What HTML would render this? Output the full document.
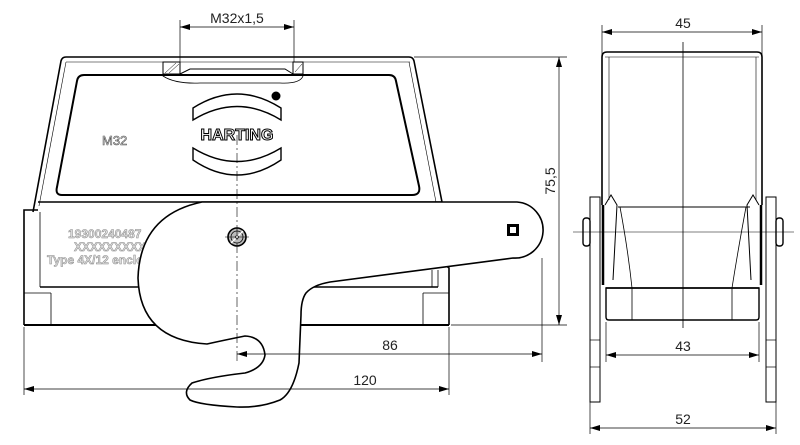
<!DOCTYPE html>
<html><head><meta charset="utf-8"><style>
html,body{margin:0;padding:0;background:#fff;width:800px;height:445px;overflow:hidden}
svg{display:block}
text{font-family:"Liberation Sans","DejaVu Sans",sans-serif}
</style></head><body>
<svg width="800" height="445" viewBox="0 0 800 445" xmlns="http://www.w3.org/2000/svg">
<defs>
<marker id="a" viewBox="0 0 10 6" refX="10" refY="3" markerWidth="10" markerHeight="6" orient="auto-start-reverse" markerUnits="userSpaceOnUse"><path d="M0,0 L10,3 L0,6 z" fill="#000"/></marker>
</defs>
<g fill="none" stroke="#000" stroke-width="1">
<line x1="180" y1="20" x2="180" y2="76" stroke-width="0.7"/>
<line x1="294" y1="20" x2="294" y2="76" stroke-width="0.7"/>
<line x1="180" y1="27" x2="294" y2="27" stroke-width="0.7" marker-start="url(#a)" marker-end="url(#a)"/>
<path d="M66,57 L409,57 Q413,57 414,61 L442,202" stroke-width="1.6"/>
<path d="M66,57 Q62,57 61,61 L33,212" stroke-width="1.6"/>
<line x1="66" y1="62" x2="410" y2="62" stroke-width="0.6"/>
<path d="M66,62 L39,206" stroke-width="0.6"/>
<path d="M409,62 L436,202" stroke-width="0.6"/>
<path d="M84,75 L389,75 Q395,75 396,81 L419,186 Q421,195 412,195 L62,195 Q55,195 57,187 L77,81 Q78,75 84,75 Z" stroke-width="2"/>
<line x1="38" y1="202" x2="442" y2="202" stroke-width="1.4"/>
<path d="M163,62 L163,76 Q175,84 200,83 L280,83 Q300,84 303,76 L303,62" stroke-width="0.8"/>
<path d="M163,62 L180,62 L180,74 L163,74 Z M293,62 L303,62 L303,74 L293,74Z" stroke-width="1" fill="#fff"/>
<path d="M165,73 L176,63 M169,73 L179,64 M295,72 L302,64" stroke-width="0.5"/>
<path d="M180,74 L190,69 L285,69 L293,74" stroke-width="1"/>
<path d="M193,108 Q237,80 281,108 L281,120 Q237,93 193,120 Z" stroke-width="1.4"/>
<path d="M193,148 Q237,175 281,148 L281,160 Q237,190 193,160 Z" stroke-width="1.4"/>
<circle cx="276" cy="96" r="4.5" fill="#000" stroke="none"/>
<path d="M24,325 L24,210 L38,210" stroke-width="1.6"/>
<line x1="24" y1="325" x2="449" y2="325" stroke-width="2"/>
<path d="M445,265 L449,268 L449,325" stroke-width="1.6"/>
<line x1="40" y1="212" x2="40" y2="287" stroke-width="0.8"/>
<line x1="40" y1="287" x2="438" y2="287" stroke-width="1.6"/>
<line x1="24" y1="293" x2="51" y2="293" stroke-width="0.8"/>
<line x1="51" y1="293" x2="51" y2="325" stroke-width="0.8"/>
<line x1="423" y1="293" x2="449" y2="293" stroke-width="0.8"/>
<line x1="423" y1="293" x2="423" y2="325" stroke-width="0.8"/>
<line x1="432" y1="270" x2="432" y2="287" stroke-width="0.8"/>
<line x1="438" y1="270" x2="438" y2="287" stroke-width="0.8"/>
</g>
<text x="102" y="145" font-size="13" fill="#eee" stroke="#555" stroke-width="0.6">M32</text>
<text x="237" y="140" font-size="16" font-weight="bold" fill="#fff" stroke="#000" stroke-width="1" text-anchor="middle">HARTING</text>
<g font-size="12" font-weight="bold" fill="#ddd" stroke="#888" stroke-width="0.5">
<text x="68" y="238">19300240487</text>
<text x="74" y="251">XXXXXXXXX</text>
<text x="47" y="264">Type 4X/12 enclosure</text>
</g>
<path d="M202,202 L517,202 A28,28 0 0 1 513,258 L330,282 Q313,285 306,293 Q301,300 301,315 L299,363 Q293,393 280,400 Q260,408 237,407 Q200,405 190,400 Q182,392 192,383 Q210,377 245,373 Q263,368 265,355 Q263,337 245,336 Q225,340 207,344 Q140,340 138,278 Q140,215 202,202 Z" fill="#fff" stroke="#000" stroke-width="1.6"/>
<circle cx="237" cy="237" r="9" fill="#bbb" stroke="#000" stroke-width="1.6"/>
<circle cx="237" cy="237" r="6" fill="none" stroke="#000" stroke-width="0.8"/>
<line x1="231" y1="243" x2="243" y2="231" stroke="#fff" stroke-width="1.5"/>
<circle cx="237" cy="237" r="1.5" fill="#fff" stroke="#000" stroke-width="0.6"/>
<rect x="507" y="224" width="12" height="12" fill="#000"/>
<rect x="510" y="227" width="6" height="6" fill="#fff"/>
<g stroke="#000" fill="none">
<line x1="237" y1="135" x2="237" y2="362" stroke-width="0.6" stroke-dasharray="10,3,2,3"/>
<line x1="225" y1="237" x2="249" y2="237" stroke-width="0.6"/>
<line x1="542" y1="258" x2="542" y2="362" stroke-width="0.7"/>
<line x1="237" y1="354" x2="542" y2="354" stroke-width="0.7" marker-start="url(#a)" marker-end="url(#a)"/>
<line x1="24" y1="327" x2="24" y2="395" stroke-width="0.7"/>
<line x1="449" y1="327" x2="449" y2="395" stroke-width="0.7"/>
<line x1="24" y1="389" x2="449" y2="389" stroke-width="0.7" marker-start="url(#a)" marker-end="url(#a)"/>
<line x1="414" y1="57" x2="567" y2="57" stroke-width="0.7"/>
<line x1="451" y1="325" x2="567" y2="325" stroke-width="0.7"/>
<line x1="559" y1="57" x2="559" y2="325" stroke-width="0.7" marker-start="url(#a)" marker-end="url(#a)"/>
</g>
<g font-size="14" fill="#222" text-anchor="middle">
<text x="237" y="23">M32x1,5</text>
<text x="390" y="350">86</text>
<text x="365" y="385">120</text>
<text x="0" y="0" transform="translate(555,181) rotate(-90)">75,5</text>
<text x="683" y="28">45</text>
<text x="683" y="351">43</text>
<text x="683" y="424">52</text>
</g>
<g fill="none" stroke="#000">
<line x1="602" y1="25" x2="602" y2="205" stroke-width="0.7"/>
<line x1="762" y1="25" x2="762" y2="205" stroke-width="0.7"/>
<line x1="602" y1="32" x2="762" y2="32" stroke-width="0.7" marker-start="url(#a)" marker-end="url(#a)"/>
<path d="M602,205 L602,57 Q602,52 607,52 L757,52 Q762,52 762,57 L762,205" stroke-width="1.6"/>
<line x1="605" y1="57" x2="759" y2="57" stroke-width="0.6"/>
<line x1="609" y1="57" x2="609" y2="200" stroke-width="0.6"/>
<line x1="756" y1="57" x2="756" y2="200" stroke-width="0.6"/>
<line x1="683" y1="42" x2="683" y2="328" stroke-width="0.8"/>
<line x1="618" y1="207" x2="750" y2="207" stroke-width="1"/>
<path d="M606,288 L606,317 Q606,320 609,320 L756,320 Q759,320 759,317 L759,288 Z" stroke-width="1.4"/>
<line x1="606" y1="288" x2="759" y2="288" stroke-width="1.6"/>
<path d="M620,207 Q628,250 632,288 L632,320" stroke-width="0.8"/>
<path d="M746,207 Q738,250 732,288 L732,320" stroke-width="0.8"/>
<path d="M605,205 L611,195 L617,205 L613,280" stroke-width="1"/>
<path d="M759,205 L753,195 L747,205 L751,280" stroke-width="1"/>
<line x1="603" y1="205" x2="603" y2="285" stroke-width="2.5"/>
<line x1="761" y1="205" x2="761" y2="285" stroke-width="2.5"/>
<rect x="590" y="197" width="10" height="205" stroke-width="1"/>
<rect x="766" y="197" width="10" height="205" stroke-width="1"/>
<line x1="590" y1="340" x2="600" y2="340" stroke-width="0.7"/>
<line x1="590" y1="367" x2="600" y2="367" stroke-width="0.7"/>
<line x1="766" y1="340" x2="776" y2="340" stroke-width="0.7"/>
<line x1="766" y1="367" x2="776" y2="367" stroke-width="0.7"/>
<rect x="583" y="218" width="7" height="28" rx="3" stroke-width="1.4"/>
<rect x="776" y="218" width="7" height="28" rx="3" stroke-width="1.4"/>
<line x1="573" y1="232" x2="794" y2="232" stroke-width="0.6"/>
<line x1="606" y1="322" x2="606" y2="362" stroke-width="0.7"/>
<line x1="759" y1="322" x2="759" y2="362" stroke-width="0.7"/>
<line x1="606" y1="355" x2="759" y2="355" stroke-width="0.7" marker-start="url(#a)" marker-end="url(#a)"/>
<line x1="590" y1="402" x2="590" y2="434" stroke-width="0.7"/>
<line x1="776" y1="402" x2="776" y2="434" stroke-width="0.7"/>
<line x1="590" y1="428" x2="776" y2="428" stroke-width="0.7" marker-start="url(#a)" marker-end="url(#a)"/>
</g>
</svg>
</body></html>
